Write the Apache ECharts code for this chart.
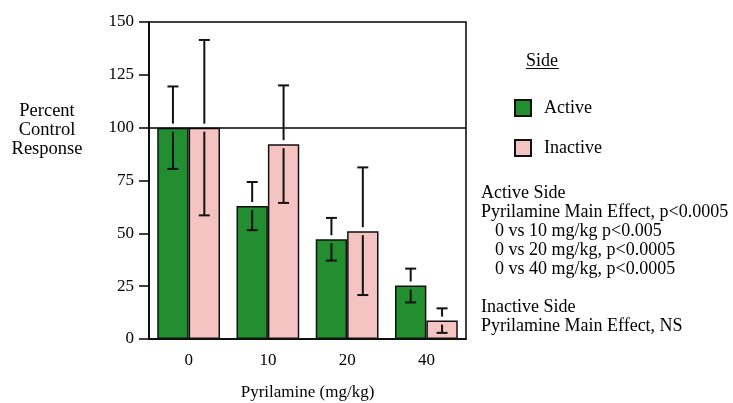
<!DOCTYPE html>
<html>
<head>
<meta charset="utf-8">
<script src="https://cdn.jsdelivr.net/npm/echarts@6/dist/echarts.min.js"></script>
<style>
  html, body { margin: 0; padding: 0; background: #fff; }
  #chart { width: 733px; height: 403px; }
</style>
</head>
<body>
<div id="chart"></div>
<script>
// doses on the x axis
var doses = ['0', '10', '20', '40'];
// bar heights
var activeMean = [100, 62.9, 47.2, 25.3];
var inactiveMean = [100, 92.2, 51, 8.7];
// half-length of error bars
var activeErr = [19.5, 11.4, 10.1, 8];
var inactiveErr = [41.5, 27.8, 30.2, 5.8];
var yTicks = [0, 25, 50, 75, 100, 125, 150];

var notes = [
  { text: 'Active Side', x: 481, y: 193 },
  { text: 'Pyrilamine Main Effect, p<0.0005', x: 481, y: 212 },
  { text: '0 vs 10 mg/kg p<0.005', x: 495, y: 231 },
  { text: '0 vs 20 mg/kg, p<0.0005', x: 495, y: 250 },
  { text: '0 vs 40 mg/kg, p<0.0005', x: 495, y: 269 },
  { text: 'Inactive Side', x: 481, y: 307 },
  { text: 'Pyrilamine Main Effect, NS', x: 481, y: 326 }
];

var FONT = 'Liberation Serif';
var BAR_W = 0.396; // share of the band taken by one bar

function errData(mean, err) {
  var out = [];
  for (var i = 0; i < mean.length; i++) {
    out.push([i, mean[i], err[i]]);
  }
  return out;
}

// error bar: T above the bar top, upside-down T inside the bar
function errorBar(side) {
  return function(params, api) {
    var idx = api.value(0);
    var m = api.value(1);
    var e = api.value(2);
    var band = api.size([1, 0])[0];
    var mid = api.coord([idx, m]);
    var x = mid[0] + side * band * BAR_W / 2;
    var top = api.coord([idx, m + e])[1];
    var bot = api.coord([idx, m - e])[1];
    var gap = 4, cap = 5.5;
    var st = { stroke: '#111', lineWidth: 2 };
    return {
      type: 'group',
      children: [
        { type: 'line', shape: { x1: x, y1: top, x2: x, y2: mid[1] - gap }, style: st },
        { type: 'line', shape: { x1: x - cap, y1: top, x2: x + cap, y2: top }, style: st },
        { type: 'line', shape: { x1: x, y1: mid[1] + gap, x2: x, y2: bot }, style: st },
        { type: 'line', shape: { x1: x - cap, y1: bot, x2: x + cap, y2: bot }, style: st }
      ]
    };
  };
}

var graphics = [
  {
    type: 'text',
    position: [47, 130],
    style: {
      text: 'Percent\nControl\nResponse',
      font: '18.5px "' + FONT + '"', fill: '#000', align: 'center',
      verticalAlign: 'middle', lineHeight: 19
    }
  },
  {
    type: 'text',
    position: [526, 61],
    style: { text: 'Side', font: '18px "' + FONT + '"', fill: '#000', align: 'left', verticalAlign: 'middle' }
  },
  {
    type: 'line',
    shape: { x1: 526, y1: 68.5, x2: 559, y2: 68.5 },
    style: { stroke: '#000', lineWidth: 1 }
  }
];
notes.forEach(function(n) {
  graphics.push({
    type: 'text',
    position: [n.x, n.y],
    style: { text: n.text, font: '18px "' + FONT + '"', fill: '#000', align: 'left', verticalAlign: 'middle' }
  });
});

var chart = echarts.init(document.getElementById('chart'));
var option = {
  animation: false,
  textStyle: { fontFamily: FONT },
  grid: {
    left: 149, right: 267, top: 22, bottom: 64,
    outerBoundsMode: 'none', containLabel: false,
    show: true, borderColor: '#000', borderWidth: 1.5, backgroundColor: 'transparent'
  },
  legend: {
    orient: 'vertical',
    left: 509, top: 94,
    icon: 'rect',
    itemWidth: 16, itemHeight: 16, itemGap: 22,
    data: ['Active', 'Inactive'],
    textStyle: { fontFamily: FONT, fontSize: 18, lineHeight: 16, color: '#000', padding: [0, 0, 0, 8] }
  },
  xAxis: {
    type: 'category',
    data: doses,
    name: 'Pyrilamine (mg/kg)',
    nameLocation: 'middle',
    nameGap: 45,
    nameTextStyle: { fontFamily: FONT, fontSize: 17, color: '#000' },
    axisLine: { lineStyle: { color: '#000', width: 1.5 } },
    axisTick: { alignWithLabel: true, length: 9, lineStyle: { color: '#000', width: 1.5 } },
    axisLabel: { fontFamily: FONT, fontSize: 17, color: '#000', margin: 13 }
  },
  yAxis: {
    type: 'value',
    min: yTicks[0], max: yTicks[yTicks.length - 1], interval: 25,
    splitLine: { show: false },
    axisLine: { show: true, lineStyle: { color: '#000', width: 1.5 } },
    axisTick: { show: true, length: 10, lineStyle: { color: '#000', width: 1.5 } },
    axisLabel: { fontFamily: FONT, fontSize: 17, color: '#000', margin: 15 }
  },
  graphic: graphics,
  series: [
    {
      name: 'Active', type: 'bar', data: activeMean,
      barWidth: (BAR_W * 100) + '%', barGap: 0,
      itemStyle: { color: '#238e2f', borderColor: '#111', borderWidth: 1.5 },
      markLine: {
        silent: true, symbol: 'none', label: { show: false },
        lineStyle: { color: '#000', type: 'solid', width: 1.5 },
        data: [{ yAxis: 100 }]
      }
    },
    {
      name: 'Inactive', type: 'bar', data: inactiveMean,
      barWidth: (BAR_W * 100) + '%', barGap: 0,
      itemStyle: { color: '#f6c3c3', borderColor: '#111', borderWidth: 1.5 }
    },
    {
      type: 'custom', renderItem: errorBar(-1), data: errData(activeMean, activeErr),
      z: 5, silent: true
    },
    {
      type: 'custom', renderItem: errorBar(1), data: errData(inactiveMean, inactiveErr),
      z: 5, silent: true
    }
  ]
};
chart.setOption(option);
</script>
</body>
</html>
